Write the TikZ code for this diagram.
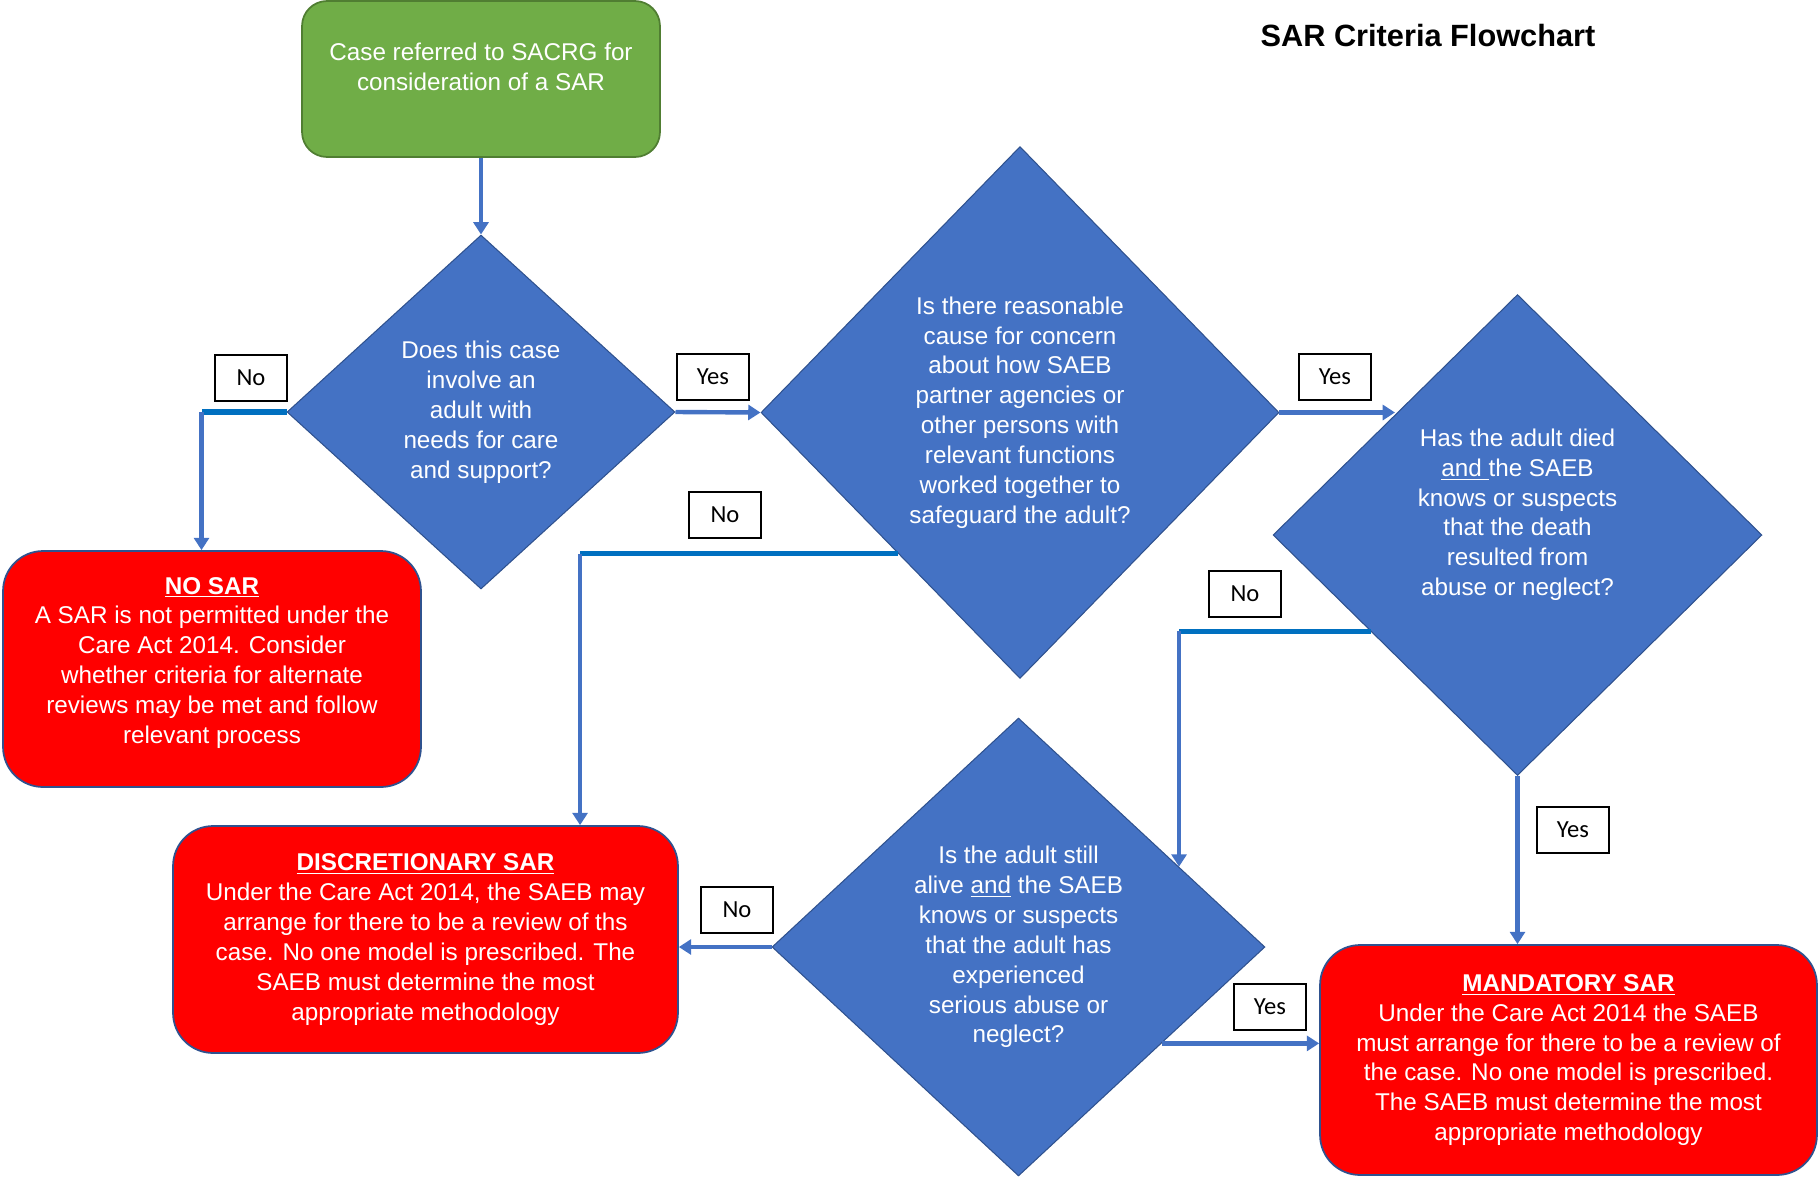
\documentclass[tikz,border=0pt]{standalone}
\usepackage{fontspec}
\setmainfont{Liberation Sans}
\newfontfamily\tagfont{Carlito}
\usepackage{tikz}
\usetikzlibrary{arrows.meta, calc, positioning, shapes.geometric}

\definecolor{startgreen}{HTML}{70AD47}
\definecolor{startedge}{HTML}{507E32}
\definecolor{qblue}{HTML}{4472C4}
\definecolor{qedge}{HTML}{2F528F}
\definecolor{noblue}{HTML}{0070C0}
\definecolor{sarred}{HTML}{FF0000}

\begin{document}
\begin{tikzpicture}[
                x=0.02cm, y=-0.02cm,
                start/.style={draw=startedge, fill=startgreen, line width=1pt, rounded corners=0.5cm, minimum width=7.16cm, minimum height=3.12cm, text=white, align=center, font=\fontsize{13.8}{17}\selectfont},
                question/.style={diamond, draw=qedge, fill=qblue, line width=0.6pt, inner sep=0pt, text=white, align=center, font=\fontsize{13.8}{17}\selectfont},
                outcome/.style={draw=qedge, fill=sarred, line width=1pt, rounded corners=0.8cm, text=white, align=center, font=\fontsize{13.8}{17}\selectfont},
                tag/.style={draw, fill=white, line width=0.8pt, minimum width=1.44cm, minimum height=0.92cm, font=\tagfont\fontsize{14}{16}\selectfont},
                arrow/.style={draw=qblue, line width=2.5pt, -{Triangle[width=8.5pt,length=7pt]}},
                noline/.style={draw=noblue, line width=3pt}
            ]
            \useasboundingbox (0,0) rectangle (1820,1181);

            % Title
            \node[font=\bfseries\fontsize{17.5}{20}\selectfont] (title) at (1428,36) {SAR Criteria Flowchart};

            % Start box
            \node[start, text depth=14pt] (start) at (481,79) {Case referred to SACRG for\\consideration of a SAR};

            % Questions
            \node[question, minimum width=7.76cm, minimum height=7.08cm] (q1) at (481,412) {Does this case\\involve an\\adult with\\needs for care\\and support?};
            \node[question, minimum width=10.36cm, minimum height=10.64cm] (q2) at (1020,412.5) {Is there reasonable\\cause for concern\\about how SAEB\\partner agencies or\\other  persons with\\relevant functions\\worked together to\\safeguard the adult?};
            \node[question, minimum width=9.78cm, minimum height=9.62cm, text depth=26pt] (q3) at (1517.5,535) {Has the adult died\\\underline{and }the SAEB\\knows or suspects\\that the death\\resulted from\\abuse or neglect?};
            \node[question, minimum width=9.86cm, minimum height=9.16cm] (q4) at (1018.5,947) {Is the adult still\\alive \underline{and} the SAEB\\knows or suspects\\that the adult has\\experienced\\serious abuse or\\neglect?};

            % Outcomes
            \node[outcome, minimum width=8.36cm, minimum height=4.72cm, text depth=10pt] (nosar) at (212,669) {\underline{\textbf{NO SAR}}\\A SAR is not permitted under the\\Care Act 2014.  Consider\\whether criteria for alternate\\reviews may be met and follow\\relevant process};
            \node[outcome, minimum width=10.1cm, minimum height=4.54cm] (disc) at (425.5,939.5) {\underline{\textbf{DISCRETIONARY SAR}}\\Under the Care Act 2014, the SAEB may\\arrange for there to be a review of ths\\case.  No one model is prescribed.  The\\SAEB must determine the most\\appropriate methodology};
            \node[outcome, minimum width=9.94cm, minimum height=4.6cm] (mand) at (1568.5,1060) {\underline{\textbf{MANDATORY SAR}}\\Under the Care Act 2014 the SAEB\\must arrange for there to be a review of\\the case.  No one model is prescribed.\\The SAEB must determine the most\\appropriate methodology};

            % Connections
            \draw[arrow] (start.south) -- (q1.north);

            \draw[noline] (q1.west) -- ++(-85,0) coordinate (c1);
            \draw[arrow] (c1) -- (c1 |- nosar.north);

            \draw[arrow] (q1.east) -- (q2.west);

            \coordinate (q2sw) at ($(q2.west)!0.53!(q2.south)$);
            \draw[noline] (q2sw) -- ++(-318,0) coordinate (c2);
            \draw[arrow] (c2) -- (c2 |- disc.north);

            \draw[arrow] (q2.east) -- (q2.east -| q3.north west);

            \coordinate (q3sw) at ($(q3.west)!0.4!(q3.south)$);
            \coordinate (q4ne) at ($(q4.north)!0.65!(q4.east)$);
            \draw[noline] (q3sw) -- (q3sw -| q4ne) coordinate (c3);
            \draw[arrow] (c3) -- (q4ne);

            \draw[arrow] (q3.south) -- (q3.south |- mand.north);

            \draw[arrow] (q4.west) -- (q4.west -| disc.east);

            \coordinate (q4se) at ($(q4.east)!0.42!(q4.south)$);
            \draw[arrow] (q4se) -- (q4se -| mand.west);

            % Labels
            \node[tag] (no1) at (251,378) {No};
            \node[tag] (yes1) at (713,377) {Yes};
            \node[tag] (no2) at (725,515) {No};
            \node[tag] (yes2) at (1335,377) {Yes};
            \node[tag] (no3) at (1245,594) {No};
            \node[tag] (yes3) at (1573,830) {Yes};
            \node[tag] (no4) at (737,910) {No};
            \node[tag] (yes4) at (1270,1007) {Yes};
        \end{tikzpicture}
\end{document}
